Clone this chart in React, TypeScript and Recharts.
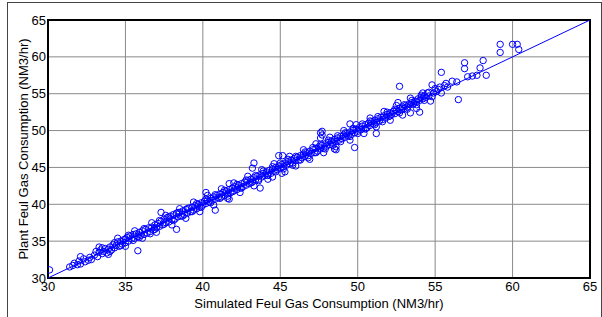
import React from "react";
import {
  ScatterChart,
  Scatter,
  XAxis,
  YAxis,
  CartesianGrid,
  ReferenceArea,
  Label,
} from "recharts";

// [simulated, plant] pairs, grouped by simulated range
const band30to35: [number, number][] = [
  [30.1, 31.1], [31.4, 31.5], [31.6, 31.7], [31.7, 32.0], [31.9, 31.8], [32.0, 32.3],
  [32.1, 31.9], [32.3, 32.6], [32.4, 32.2], [32.1, 32.9], [32.6, 32.4], [32.7, 32.8],
  [32.8, 32.5], [33.0, 33.1], [33.2, 32.9], [33.3, 33.5], [33.4, 33.8], [33.5, 33.3],
  [33.6, 33.6], [33.7, 34.0], [33.8, 33.4], [33.9, 33.9], [34.0, 34.2], [34.1, 33.8],
  [34.2, 34.5], [34.3, 34.1], [34.4, 34.4], [34.5, 34.9], [34.6, 34.3], [34.7, 35.0],
  [34.8, 34.6], [34.9, 35.2], [35.0, 34.8], [35.0, 35.3],
  [33.1, 33.6], [33.5, 34.1], [34.0, 33.6], [34.3, 34.8], [34.7, 34.4],
  [33.3, 34.2], [33.9, 33.2], [34.5, 35.4], [35.0, 34.3],
];

const band35to40: [number, number][] = [
  [35.1, 35.5], [35.2, 35.0], [35.3, 35.7], [35.4, 35.3], [35.5, 35.9], [35.6, 35.4],
  [35.7, 36.0], [35.8, 33.7], [35.8, 35.6], [35.9, 36.2], [36.0, 35.8], [36.1, 36.4],
  [36.2, 35.9], [36.3, 36.6], [36.4, 36.1], [36.5, 36.8], [36.6, 36.3], [36.7, 36.9],
  [36.8, 36.5], [36.9, 37.2], [37.0, 36.8], [37.1, 37.4], [37.2, 37.0], [37.3, 38.9],
  [37.3, 37.7], [37.4, 37.2], [37.5, 38.0], [37.6, 37.5], [37.7, 38.2], [37.8, 37.6],
  [37.9, 38.4], [38.0, 37.9], [38.1, 38.6], [38.2, 38.0], [38.3, 36.6], [38.3, 38.8],
  [38.4, 38.3], [38.5, 38.9], [38.6, 38.4], [38.7, 39.1], [38.8, 38.6], [38.9, 39.3],
  [39.0, 38.8], [39.1, 39.5], [39.2, 39.0], [39.3, 39.6], [39.4, 39.2], [39.5, 39.8],
  [39.6, 39.4], [39.7, 40.0], [39.8, 39.6], [39.9, 40.2], [40.0, 39.9],
  [35.2, 35.8], [35.5, 35.1], [35.9, 35.5], [36.2, 36.7], [36.6, 36.0], [36.9, 36.6],
  [37.2, 37.8], [37.5, 37.3], [37.8, 38.3], [38.1, 37.8], [38.4, 38.9], [38.7, 38.4],
  [39.0, 39.4], [39.3, 39.0], [39.6, 40.1], [39.9, 39.6],
  [35.6, 36.4], [36.1, 35.4], [36.7, 37.5], [37.0, 36.2], [37.6, 38.5], [38.0, 37.2],
  [38.5, 39.4], [38.9, 38.1], [39.4, 40.3], [39.8, 39.0],
];

const band40to45: [number, number][] = [
  [40.1, 40.4], [40.2, 41.6], [40.2, 40.1], [40.3, 40.6], [40.4, 40.3], [40.5, 40.8],
  [40.6, 40.5], [40.7, 41.0], [40.8, 39.2], [40.8, 40.7], [40.9, 41.2], [41.0, 40.9],
  [41.1, 41.4], [41.2, 41.0], [41.3, 41.6], [41.4, 41.2], [41.5, 41.8], [41.6, 41.4],
  [41.7, 42.8], [41.7, 40.7], [41.7, 42.0], [41.8, 41.6], [41.9, 42.2], [42.0, 41.8],
  [42.1, 42.4], [42.2, 42.0], [42.3, 42.6], [42.4, 42.2], [42.5, 42.8], [42.6, 42.4],
  [42.7, 43.0], [42.8, 42.6], [42.9, 43.2], [43.0, 42.8], [43.1, 43.4], [43.2, 44.9],
  [43.3, 45.6], [43.2, 43.0], [43.3, 43.6], [43.4, 43.3], [43.5, 43.8], [43.6, 43.4],
  [43.7, 42.2], [43.7, 44.0], [43.8, 43.7], [43.9, 44.2], [44.0, 43.9], [44.1, 44.4],
  [44.2, 44.1], [44.3, 44.6], [44.4, 44.2], [44.5, 43.7], [44.5, 44.8], [44.6, 44.5],
  [44.7, 45.0], [44.8, 44.7], [44.9, 46.6], [44.9, 45.2], [45.0, 44.9],
  [40.2, 40.7], [40.5, 40.2], [40.8, 41.3], [41.1, 40.8], [41.4, 41.9], [41.6, 41.1],
  [41.9, 41.7], [42.2, 42.7], [42.5, 42.2], [42.8, 43.3], [43.1, 42.9], [43.4, 43.9],
  [43.6, 43.2], [43.9, 44.5], [44.2, 43.9], [44.5, 45.1], [44.7, 44.4],
  [40.3, 41.2], [40.7, 39.9], [41.2, 42.1], [41.6, 40.8], [42.0, 42.9], [42.4, 41.6],
  [42.9, 43.8], [43.3, 42.5], [43.8, 44.7], [44.2, 43.4], [44.6, 45.5],
];

const band45to50: [number, number][] = [
  [45.15, 46.6], [45.1, 45.4], [45.2, 45.1], [45.3, 44.4], [45.3, 45.6], [45.4, 45.3],
  [45.5, 45.8], [45.6, 45.5], [45.7, 46.0], [45.8, 45.6], [45.9, 46.2], [46.0, 45.9],
  [46.1, 46.4], [46.2, 46.0], [46.3, 46.6], [46.4, 46.3], [46.5, 46.8], [46.6, 46.5],
  [46.7, 47.0], [46.8, 46.6], [46.9, 47.2], [47.0, 46.9], [47.1, 47.4], [47.2, 47.0],
  [47.3, 47.6], [47.4, 47.2], [47.5, 47.8], [47.6, 49.0], [47.6, 49.7], [47.7, 49.9],
  [47.7, 49.4], [47.6, 47.5], [47.7, 48.0], [47.8, 47.6], [47.9, 48.2], [48.0, 47.9],
  [48.1, 48.4], [48.2, 48.1], [48.3, 48.6], [48.4, 48.3], [48.5, 47.5], [48.6, 47.4],
  [48.5, 48.8], [48.6, 48.5], [48.7, 49.0], [48.8, 48.7], [48.9, 49.2], [49.0, 48.9],
  [49.1, 49.4], [49.2, 49.1], [49.3, 49.6], [49.4, 49.3], [49.5, 50.9], [49.5, 49.8],
  [49.6, 49.5], [49.7, 50.0], [49.8, 47.7], [49.8, 49.7], [49.9, 50.2], [50.0, 49.9],
  [45.0, 45.6], [45.2, 44.8], [45.5, 46.1], [45.8, 45.3], [46.0, 46.5], [46.3, 46.0],
  [46.6, 47.1], [46.8, 46.3], [47.1, 47.7], [47.3, 47.0], [47.6, 48.1], [47.9, 47.5],
  [48.1, 48.7], [48.4, 48.0], [48.7, 49.3], [48.9, 48.5], [49.2, 49.7], [49.5, 49.2],
  [49.7, 50.3], [50.0, 49.6],
  [45.1, 44.2], [45.6, 46.5], [46.0, 45.2], [46.5, 47.4], [46.9, 46.1], [47.3, 48.2],
  [47.8, 47.0], [48.2, 49.1], [48.6, 47.8], [49.1, 50.0], [49.5, 48.7], [49.9, 50.8],
];

const band50to55: [number, number][] = [
  [50.1, 50.4], [50.2, 50.1], [50.3, 50.6], [50.4, 50.3], [50.5, 50.8], [50.6, 50.4],
  [50.7, 51.0], [50.8, 50.7], [50.9, 51.2], [51.0, 50.9], [51.1, 51.4], [51.2, 49.6],
  [51.2, 51.1], [51.3, 51.6], [51.4, 51.3], [51.5, 51.8], [51.6, 51.5], [51.7, 52.0],
  [51.8, 51.7], [51.9, 52.2], [52.0, 51.9], [52.1, 52.4], [52.2, 52.2], [52.3, 52.6],
  [52.4, 52.3], [52.5, 52.8], [52.6, 53.8], [52.6, 52.6], [52.7, 56.0], [52.7, 53.0],
  [52.8, 52.8], [52.9, 53.2], [53.0, 53.0], [53.1, 53.4], [53.2, 53.2], [53.3, 53.6],
  [53.4, 52.4], [53.4, 53.5], [53.5, 53.8], [53.6, 53.6], [53.7, 54.0], [53.8, 53.9],
  [53.9, 54.3], [54.0, 52.5], [54.0, 54.1], [54.1, 54.5], [54.2, 54.3], [54.3, 54.7],
  [54.4, 54.5], [54.5, 55.1], [54.6, 54.7], [54.8, 54.6], [54.8, 56.2], [54.9, 55.1],
  [55.0, 55.7],
  [50.3, 50.9], [50.5, 50.2], [50.8, 51.3], [51.1, 50.8], [51.3, 51.9], [51.6, 51.2],
  [51.9, 52.5], [52.1, 52.0], [52.4, 52.9], [52.7, 52.4], [53.0, 53.5], [53.2, 52.9],
  [53.5, 54.1], [53.8, 53.5], [54.1, 54.8], [54.3, 54.1], [54.6, 55.2],
  [50.4, 49.6], [50.8, 51.7], [51.2, 50.5], [51.7, 52.6], [52.1, 51.4], [52.5, 53.4],
  [52.9, 52.1], [53.4, 54.4], [53.8, 53.0], [54.2, 55.1], [54.7, 54.0],
];

const band55to61: [number, number][] = [
  [55.1, 55.3], [55.2, 55.6], [55.3, 55.9], [55.4, 55.1], [55.4, 57.9], [55.6, 56.1],
  [55.7, 56.4], [55.8, 55.9], [56.1, 56.7], [56.4, 56.6], [56.5, 54.2], [56.9, 59.2],
  [56.9, 58.4], [57.1, 57.3], [57.4, 57.4], [57.7, 57.5], [57.9, 58.5], [58.1, 59.5],
  [58.3, 57.5], [59.2, 61.7], [59.2, 60.6], [60.0, 61.7], [60.3, 61.7], [60.4, 61.0],
];

const fitLine: [number, number][] = [
  [30, 30],
  [65, 65],
];

const axisTicks = [30, 35, 40, 45, 50, 55, 60, 65];

const xLabel = "Simulated Feul Gas Consumption (NM3/hr)";
const yLabel = "Plant Feul Gas Consumption (NM3/hr)";

const toPoints = (pairs: [number, number][]) =>
  pairs.map(([x, y]) => ({ x, y }));

const measured = toPoints([
  ...band30to35,
  ...band35to40,
  ...band40to45,
  ...band45to50,
  ...band50to55,
  ...band55to61,
]);
const linePoints = toPoints(fitLine);

const BLUE = "#0000ff";
const FONT = "'Liberation Sans', Arial, sans-serif";

const OpenCircle = (props: any) => {
  const { cx, cy } = props;
  if (cx == null || cy == null) return <g />;
  return (
    <circle cx={cx} cy={cy} r={3.2} fill="none" stroke={BLUE} strokeWidth={1} />
  );
};

const NoMarker = () => <g />;

export default function App() {
  const tickStyle = { fill: "#000", fontSize: 13, fontFamily: FONT };
  return (
    <div
      style={{
        position: "absolute",
        left: 0,
        top: 0,
        width: 602,
        height: 317,
        overflow: "hidden",
        background: "#fff",
        fontFamily: FONT,
      }}
    >
      <div
        style={{
          position: "absolute",
          left: 7,
          top: 2,
          width: 595,
          height: 400,
          boxSizing: "border-box",
          border: "1px solid #444",
        }}
      />
      <div style={{ position: "absolute", left: 0, top: 0 }}>
        <ScatterChart
          width={602}
          height={317}
          margin={{ top: 20, right: 12, bottom: 0, left: 0 }}
        >
          <CartesianGrid stroke="#8a8a8a" strokeWidth={1} />
          <XAxis
            type="number"
            dataKey="x"
            domain={[30, 65]}
            ticks={axisTicks}
            interval={0}
            allowDataOverflow
            height={39}
            axisLine={false}
            tickLine={false}
            tickSize={0}
            tickMargin={4}
            tick={tickStyle}
          >
            <Label
              value={xLabel}
              position="insideBottom"
              offset={9}
              style={{ fill: "#000", fontSize: 13, fontFamily: FONT }}
            />
          </XAxis>
          <YAxis
            type="number"
            dataKey="y"
            domain={[30, 65]}
            ticks={axisTicks}
            interval={0}
            allowDataOverflow
            width={48}
            axisLine={false}
            tickLine={false}
            tickSize={0}
            tickMargin={2}
            tick={tickStyle}
          >
            <Label
              value={yLabel}
              angle={-90}
              position="insideLeft"
              offset={23}
              style={{
                fill: "#000",
                fontSize: 13,
                fontFamily: FONT,
                textAnchor: "middle",
              }}
            />
          </YAxis>
          <ReferenceArea
            x1={30}
            x2={65}
            y1={30}
            y2={65}
            fill="none"
            fillOpacity={0}
            stroke="#000"
            strokeWidth={2}
          />
          <Scatter
            data={linePoints}
            line={{ stroke: BLUE, strokeWidth: 1 }}
            shape={NoMarker}
            isAnimationActive={false}
          />
          <Scatter
            data={measured}
            shape={OpenCircle}
            isAnimationActive={false}
          />
        </ScatterChart>
      </div>
    </div>
  );
}
